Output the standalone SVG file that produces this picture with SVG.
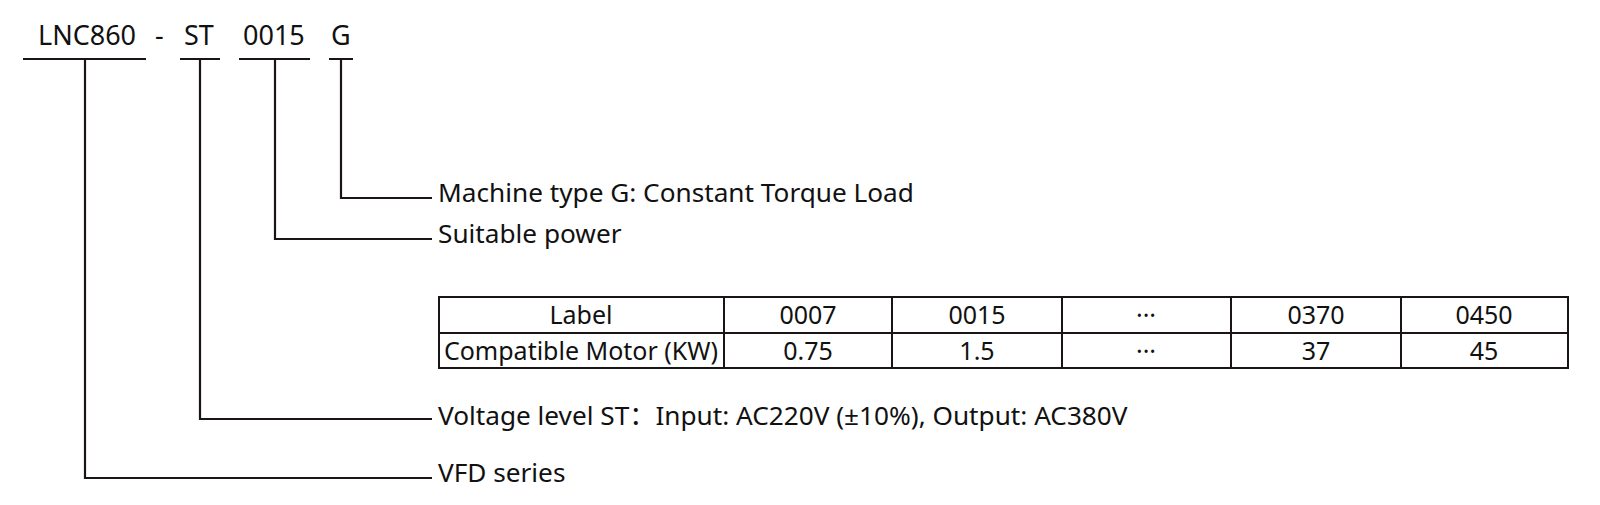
<svg xmlns="http://www.w3.org/2000/svg" width="1600" height="505" viewBox="0 0 1600 505">
<style>
text{font-family:"Noto Sans","Open Sans","Noto Sans CJK SC",sans-serif;fill:#111;}
.code{font-size:27px;}
.lbl{font-size:26.2px;}
.tb{font-size:25px;text-anchor:middle;}
.ln{stroke:#1a1414;stroke-width:2.2;fill:none;}
.grid{stroke:#1a1414;stroke-width:2;fill:none;}
</style>
<rect width="1600" height="505" fill="#fff"/>
<g id="code">
<text class="code" x="38" y="45">LNC860</text>
<text class="code" x="155" y="45">-</text>
<text class="code" x="184" y="45">ST</text>
<text class="code" x="243" y="45">0015</text>
<text class="code" x="331" y="45">G</text>
</g>
<g id="connectors">
<path class="ln" d="M23 59H146M180 59H220M239 59H310M329 59H353"/>
<path class="ln" d="M341 59V198H432"/>
<path class="ln" d="M275 59V239H432"/>
<path class="ln" d="M200 59V419H432"/>
<path class="ln" d="M85 59V478H432"/>
</g>
<g id="machine-type"><text class="lbl" x="438" y="202">Machine type G: Constant Torque Load</text></g>
<g id="suitable-power"><text class="lbl" x="438" y="243">Suitable power</text></g>
<g id="voltage-level"><text class="lbl" x="438" y="425">Voltage level ST：Input: AC220V (±10%), Output: AC380V</text></g>
<g id="vfd-series"><text class="lbl" x="438" y="482">VFD series</text></g>
<g id="power-table">
<rect class="grid" x="439" y="297" width="1129" height="71"/>
<path class="grid" d="M439 333H1568M724 297V368M892 297V368M1062 297V368M1231 297V368M1401 297V368"/>
<text class="tb" x="581" y="324">Label</text>
<text class="tb" x="808" y="324">0007</text>
<text class="tb" x="977" y="324">0015</text>
<text class="tb" x="1146" y="324">···</text>
<text class="tb" x="1316" y="324">0370</text>
<text class="tb" x="1484" y="324">0450</text>
<text class="tb" x="581" y="360">Compatible Motor (KW)</text>
<text class="tb" x="808" y="360">0.75</text>
<text class="tb" x="977" y="360">1.5</text>
<text class="tb" x="1146" y="360">···</text>
<text class="tb" x="1316" y="360">37</text>
<text class="tb" x="1484" y="360">45</text>
</g>
</svg>
